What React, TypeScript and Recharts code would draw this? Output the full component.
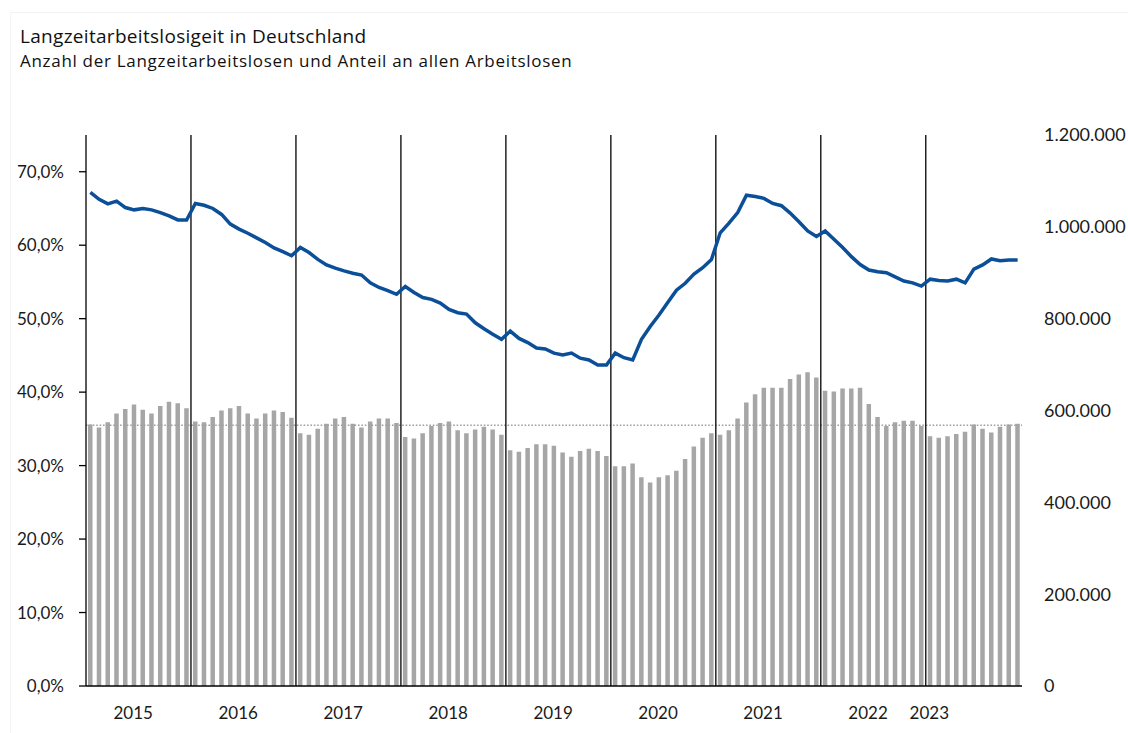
import { ComposedChart, Bar, Line, XAxis, YAxis, ReferenceLine } from "recharts";

const years = ["2015", "2016", "2017", "2018", "2019", "2020", "2021", "2022", "2023"];

// Anteil der Langzeitarbeitslosen an allen Arbeitslosen (%), monatlich
const anteil = [
  35.6, 35.2, 35.9, 37.1, 37.7, 38.3, 37.6, 37.1, 38.1, 38.7, 38.5, 37.8,
  36.0, 35.9, 36.6, 37.5, 37.8, 38.1, 37.1, 36.4, 37.1, 37.5, 37.3, 36.5,
  34.4, 34.2, 35.0, 35.7, 36.4, 36.6, 35.7, 35.2, 36.0, 36.4, 36.4, 35.8,
  33.9, 33.7, 34.4, 35.4, 35.8, 36.0, 34.8, 34.4, 34.9, 35.3, 34.9, 34.2,
  32.1, 31.9, 32.4, 32.9, 32.9, 32.7, 31.8, 31.2, 32.0, 32.3, 32.0, 31.3,
  29.9, 29.9, 30.3, 28.4, 27.7, 28.4, 28.7, 29.3, 30.9, 32.6, 33.8, 34.4,
  34.2, 34.8, 36.4, 38.6, 39.7, 40.6, 40.6, 40.6, 41.8, 42.4, 42.7, 42.0,
  40.2, 40.1, 40.5, 40.5, 40.6, 38.4, 36.6, 35.4, 35.9, 36.1, 36.1, 35.4,
  34.0, 33.8, 34.0, 34.3, 34.6, 35.6, 35.0, 34.5, 35.3, 35.6, 35.7,
];

// Anzahl der Langzeitarbeitslosen, monatlich
const anzahl = [
  1075000, 1060000, 1050000, 1056000, 1042000, 1037000, 1040000, 1037000, 1031000, 1024000, 1015000, 1015000,
  1051000, 1047000, 1040000, 1027000, 1006000, 995000, 986000, 976000, 966000, 954000, 946000, 937000,
  955000, 944000, 929000, 917000, 910000, 904000, 899000, 895000, 878000, 868000, 861000, 853000,
  870000, 857000, 846000, 842000, 834000, 820000, 813000, 810000, 791000, 778000, 766000, 755000,
  773000, 757000, 748000, 736000, 734000, 725000, 721000, 725000, 714000, 710000, 699000, 699000,
  725000, 715000, 710000, 755000, 783000, 808000, 835000, 862000, 877000, 897000, 911000, 929000,
  987000, 1008000, 1031000, 1069000, 1066000, 1062000, 1051000, 1046000, 1030000, 1011000, 991000, 979000,
  991000, 973000, 955000, 935000, 918000, 906000, 902000, 900000, 891000, 882000, 878000, 871000,
  886000, 883000, 882000, 886000, 878000, 908000, 917000, 930000, 926000, 928000, 928000,
];

const durchschnitt = 35.5;

const pctTicks = [0, 10, 20, 30, 40, 50, 60, 70];
const countTicks = [0, 200000, 400000, 600000, 800000, 1000000, 1200000];

const data = anteil.map((a, i) => ({ monat: i + 0.5, anteil: a, anzahl: anzahl[i] }));

const yearStarts = years.map((_, i) => i * 12);
const yearLabelTicks = years.map((_, i) => (i < years.length - 1 ? i * 12 + 5.4 : i * 12 + 0.4));

const fmtPct = (v: number) => v.toFixed(1).replace(".", ",") + "%";
const fmtCount = (v: number) => String(v).replace(/\B(?=(\d{3})+(?!\d))/g, ".");

const font = "Lato, 'Open Sans', sans-serif";
const headFont = "'Open Sans', Lato, sans-serif";
const tickStyle = { fontSize: 17, fill: "#1a1a1a", fontFamily: font };

export default function App() {
  return (
    <div style={{ position: "absolute", left: 0, top: 0, width: 1128, height: 733, background: "#fff", fontFamily: font }}>
      <div style={{ position: "absolute", left: 10, top: 12, right: 0, bottom: 0, borderTop: "1px solid #f2f2f2", borderLeft: "1px solid #f6f6f6" }} />
      <div style={{ position: "absolute", left: 20, top: 23, fontSize: 19, letterSpacing: 0.3, color: "#111", whiteSpace: "nowrap", fontFamily: headFont }}>
        Langzeitarbeitslosigeit in Deutschland
      </div>
      <div style={{ position: "absolute", left: 20, top: 49, fontSize: 17, letterSpacing: 0.7, color: "#111", whiteSpace: "nowrap", fontFamily: headFont }}>
        Anzahl der Langzeitarbeitslosen und Anteil an allen Arbeitslosen
      </div>
      <div style={{ position: "absolute", left: 0, top: 0 }}>
        <ComposedChart width={1128} height={733} data={data} margin={{ top: 135, right: 0, bottom: 1, left: 0 }}>
          <XAxis
            dataKey="monat"
            type="number"
            domain={[0, anteil.length]}
            ticks={yearStarts}
            tick={false}
            tickSize={6}
            height={6}
            axisLine={{ stroke: "#000", strokeWidth: 1.3 }}
            tickLine={{ stroke: "#000", strokeWidth: 1.3 }}
          />
          <XAxis
            xAxisId="lbl"
            dataKey="monat"
            type="number"
            domain={[0, anteil.length]}
            ticks={yearLabelTicks}
            tickFormatter={(v: number) => years[Math.floor(v / 12)]}
            tick={tickStyle}
            axisLine={false}
            tickLine={false}
            tickMargin={9}
            height={40}
            interval={0}
          />
          <YAxis
            domain={[0, 75]}
            ticks={pctTicks}
            tickFormatter={fmtPct}
            tick={tickStyle}
            width={86}
            tickSize={7}
            tickMargin={15}
            axisLine={{ stroke: "#000", strokeWidth: 1.3 }}
            tickLine={{ stroke: "#000", strokeWidth: 1.3 }}
            interval={0}
          />
          <YAxis
            yAxisId="right"
            orientation="right"
            domain={[0, 1200000]}
            ticks={countTicks}
            tickFormatter={fmtCount}
            tick={{ ...tickStyle, fontSize: 18, textAnchor: "start" }}
            width={106}
            tickSize={6}
            tickMargin={16}
            axisLine={false}
            tickLine={false}
            interval={0}
          />
          <Bar dataKey="anteil" fill="#a6a6a6" barSize={4.5} isAnimationActive={false} />
          <ReferenceLine y={durchschnitt} stroke="#a0a0a0" strokeWidth={1.6} strokeDasharray="1.6 1.8" />
          {yearStarts.slice(1).map((x) => (
            <ReferenceLine key={x} x={x} stroke="#000" strokeWidth={1.3} />
          ))}
          <Line
            yAxisId="right"
            dataKey="anzahl"
            type="linear"
            stroke="#0b4f98"
            strokeWidth={3.5}
            dot={false}
            isAnimationActive={false}
          />
        </ComposedChart>
      </div>
    </div>
  );
}
